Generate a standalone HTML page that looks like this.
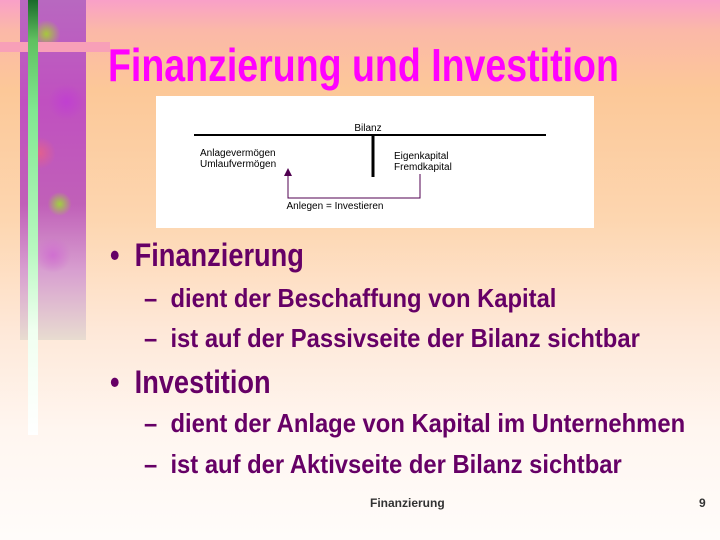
<!DOCTYPE html>
<html><head><meta charset="utf-8"><style>
body{margin:0;width:720px;height:540px;overflow:hidden;position:relative;
background:linear-gradient(180deg,#f9a0c8 0px,#fbb8a8 30px,#fcc898 90px,#fdd6b0 220px,#fee8d8 330px,#fff6f0 430px,#fffcfa 540px);
font-family:"Liberation Sans",sans-serif;}
.a{position:absolute;white-space:nowrap;transform-origin:0 0;}
.strip{position:absolute;left:20px;top:0;width:66px;height:340px;
background:
radial-gradient(circle at 40% 10%,#a6c83c 0,transparent 14px),
radial-gradient(circle at 70% 30%,#c040d0 0,transparent 18px),
radial-gradient(circle at 30% 45%,#e06090 0,transparent 16px),
radial-gradient(circle at 60% 60%,#a0d040 0,transparent 12px),
radial-gradient(circle at 50% 75%,#d070d0 0,transparent 18px),
linear-gradient(180deg,#b868c0 0%,#c050c0 30%,#c060b8 60%,#d8a0d0 80%,#e8dcd0 100%);}
.green{position:absolute;left:28px;top:0;width:10px;height:435px;
background:linear-gradient(180deg,#1a6a2a 0,#60c060 40px,#80e890 110px,#b8f8c0 250px,#f0fff0 330px,#ffffff 435px);}
.pink{position:absolute;left:0;top:42px;width:110px;height:10px;background:#f8a0b8;}
.sub{font-size:26px;font-weight:bold;color:#660066;transform:scaleX(0.915);}
.bul{font-size:32px;font-weight:bold;color:#660066;transform:scaleX(0.85);}
</style></head><body>
<div class="strip"></div>
<div class="pink"></div>
<div class="green"></div>
<div class="a" style="left:108px;top:38px;font-size:46px;font-weight:bold;color:#ff00ff;transform:scaleX(0.816);">Finanzierung und Investition</div>
<svg class="a" style="left:156px;top:96px" width="438" height="132">
<rect width="438" height="132" fill="#fff"/>
<text x="212" y="35" font-family="Liberation Sans" font-size="10" text-anchor="middle">Bilanz</text>
<line x1="38" y1="39" x2="390" y2="39" stroke="#000" stroke-width="2"/>
<line x1="217" y1="39" x2="217" y2="81" stroke="#000" stroke-width="3"/>
<text x="44" y="60" font-family="Liberation Sans" font-size="10">Anlagevermögen</text>
<text x="44" y="71" font-family="Liberation Sans" font-size="10">Umlaufvermögen</text>
<text x="238" y="63" font-family="Liberation Sans" font-size="10">Eigenkapital</text>
<text x="238" y="74" font-family="Liberation Sans" font-size="10">Fremdkapital</text>
<polyline points="264,78 264,102 132,102 132,78" fill="none" stroke="#500050" stroke-width="1"/>
<polygon points="128,80 136,80 132,72" fill="#500050"/>
<text x="179" y="113" font-family="Liberation Sans" font-size="10" text-anchor="middle">Anlegen = Investieren</text>
</svg>
<div class="a bul" style="left:110px;top:237px">•&nbsp; Finanzierung</div>
<div class="a sub" style="left:144px;top:283px">–&nbsp; dient der Beschaffung von Kapital</div>
<div class="a sub" style="left:144px;top:323px">–&nbsp; ist auf der Passivseite der Bilanz sichtbar</div>
<div class="a bul" style="left:110px;top:364px">•&nbsp; Investition</div>
<div class="a sub" style="left:144px;top:408px">–&nbsp; dient der Anlage von Kapital im Unternehmen</div>
<div class="a sub" style="left:144px;top:449px">–&nbsp; ist auf der Aktivseite der Bilanz sichtbar</div>
<div class="a" style="left:370px;top:496px;font-size:12px;color:#333;font-weight:bold;">Finanzierung</div>
<div class="a" style="left:699px;top:496px;font-size:12px;color:#333;font-weight:bold;">9</div>
</body></html>
